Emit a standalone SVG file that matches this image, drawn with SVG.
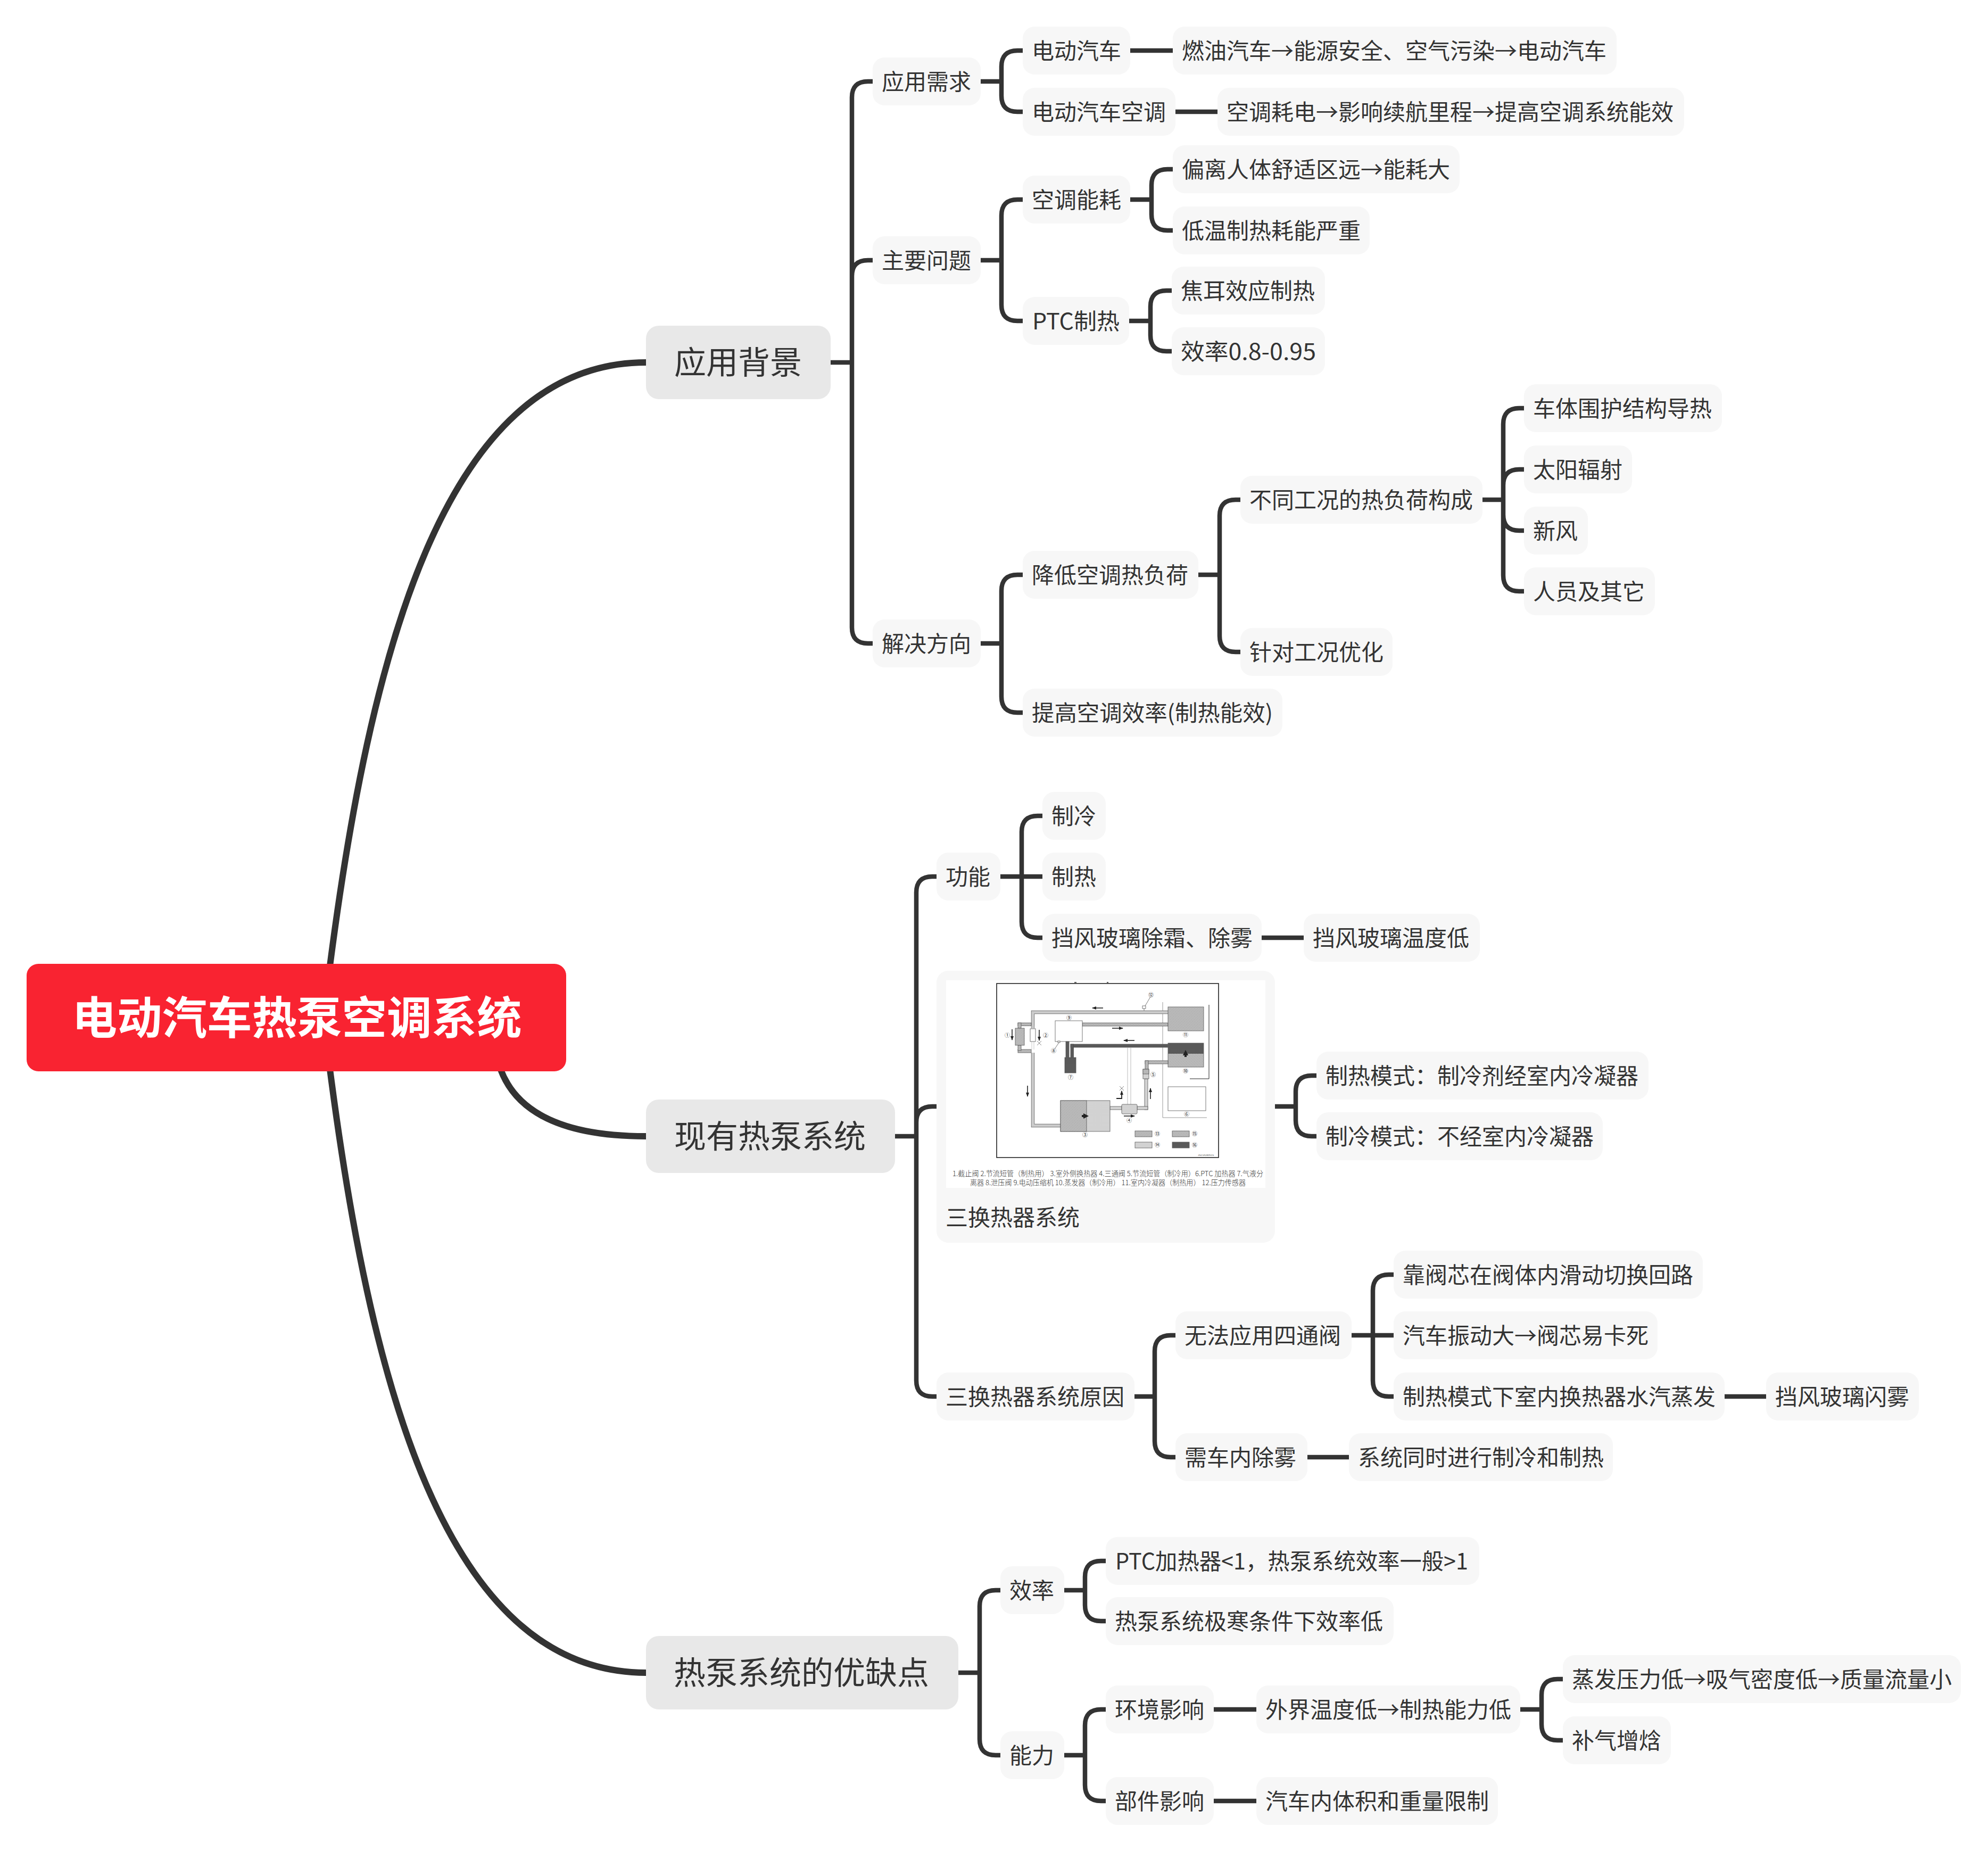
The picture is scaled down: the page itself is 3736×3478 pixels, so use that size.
<svg xmlns="http://www.w3.org/2000/svg" width="3736" height="3478" viewBox="0 0 3736 3478">
<style>
text{font-family:"Noto Sans CJK SC","Noto Sans",sans-serif;fill:#333}
.l3 rect,.card{fill:#f7f7f7}
.l3>text{font-size:42px;transform:translate(-1px,1px)}
.l2 rect{fill:#e8e8e8}
.l2 text{font-size:60px;text-anchor:middle;transform:translateX(-1px)}
.root rect{fill:#f92331}
.root text{font-size:84.5px;font-weight:700;fill:#fff;text-anchor:middle}
#connectors path{fill:none;stroke:#333;stroke-width:8.5}
#connectors .main{stroke-width:12}
#schematic .num{font-size:10px;text-anchor:middle;fill:#222}
#schematic .cap{font-size:13.5px;fill:#333;font-weight:300}
.pic{stroke:#555;stroke-width:.8}
.arr{stroke:#222;stroke-width:1.6;fill:none;marker-end:url(#ah)}
.thick{stroke:#222;stroke-width:4;fill:none;marker-end:url(#ahb)}
</style>
<defs>
<pattern id="h1" width="2.5" height="2.5" patternUnits="userSpaceOnUse"><rect width="2.5" height="2.5" fill="#ddd"/><path d="M0 2.5L2.5 0" stroke="#555" stroke-width=".7"/></pattern>
<pattern id="h2" width="2.5" height="2.5" patternUnits="userSpaceOnUse"><rect width="2.5" height="2.5" fill="#ddd"/><path d="M0 0L2.5 2.5" stroke="#555" stroke-width=".7"/></pattern>
<pattern id="lt" width="2" height="2" patternUnits="userSpaceOnUse"><rect width="2" height="2" fill="#dadada"/><rect width="1" height="1" fill="#bbb"/></pattern>
<pattern id="dk" width="2" height="2" patternUnits="userSpaceOnUse"><rect width="2" height="2" fill="#666"/><rect width="1" height="1" fill="#333"/></pattern>
<marker id="ah" viewBox="0 0 8 6" refX="7" refY="3" markerWidth="5" markerHeight="4" orient="auto"><path d="M0 0L8 3L0 6z" fill="#222"/></marker>
<marker id="ahb" viewBox="0 0 8 8" refX="4" refY="4" markerWidth="2.6" markerHeight="2.6" orient="auto"><path d="M0 0L8 4L0 8z" fill="#222"/></marker>
</defs>
<rect width="3736" height="3478" fill="#fff"/>
<g id="connectors">
<path class="main" d="M620 1815C693 1251 829 681 1214 681"/>
<path class="main" d="M941 2010C972 2092 1060 2135 1214 2135"/>
<path class="main" d="M620 2009C693 2573 829 3143 1214 3143"/>
<path d="M1561 681H1601M1601 681V183Q1601 153 1631 153H1640M1601 681V519Q1601 489 1631 489H1640M1601 681V1179Q1601 1209 1631 1209H1640"/>
<path d="M1843 153H1882M1882 153V125Q1882 95 1912 95H1922M1882 153V180Q1882 210 1912 210H1922"/>
<path d="M2124 95H2204M2209 210H2288"/>
<path d="M1843 489H1882M1882 489V405Q1882 375 1912 375H1922M1882 489V573Q1882 603 1912 603H1922"/>
<path d="M2124 375H2164M2164 375V348Q2164 318 2194 318H2204M2164 375V403Q2164 433 2194 433H2204"/>
<path d="M2122 603H2162M2162 603V576Q2162 546 2192 546H2202M2162 603V630Q2162 660 2192 660H2202"/>
<path d="M1843 1209H1882M1882 1209V1110Q1882 1080 1912 1080H1922M1882 1209V1309Q1882 1339 1912 1339H1922"/>
<path d="M2252 1080H2292M2292 1080V969Q2292 939 2322 939H2331M2292 1080V1195Q2292 1225 2322 1225H2331"/>
<path d="M2786 939H2825M2825 939V797Q2825 767 2855 767H2864M2825 939V912Q2825 882 2855 882H2864M2825 939V967Q2825 997 2855 997H2864M2825 939V1081Q2825 1111 2855 1111H2864"/>
<path d="M1682 2135H1722M1722 2135V1677Q1722 1647 1752 1647H1760M1722 2135V2109Q1722 2079 1752 2079H1760M1722 2135V2594Q1722 2624 1752 2624H1760"/>
<path d="M1880 1647H1959M1920 1647V1563Q1920 1533 1950 1533H1959M1920 1647V1732Q1920 1762 1950 1762H1959"/>
<path d="M2371 1762H2450"/>
<path d="M2396 2079H2435M2435 2079V2051Q2435 2021 2465 2021H2474M2435 2079V2105Q2435 2135 2465 2135H2474"/>
<path d="M2132 2624H2170M2170 2624V2539Q2170 2509 2200 2509H2209M2170 2624V2708Q2170 2738 2200 2738H2209"/>
<path d="M2540 2509H2619M2580 2509V2425Q2580 2395 2610 2395H2619M2580 2509V2594Q2580 2624 2610 2624H2619"/>
<path d="M3241 2624H3319M2457 2738H2535"/>
<path d="M1801 3143H1841M1841 3143V3018Q1841 2988 1871 2988H1880M1841 3143V3268Q1841 3298 1871 3298H1880"/>
<path d="M2000 2988H2039M2039 2988V2963Q2039 2933 2069 2933H2078M2039 2988V3016Q2039 3046 2069 3046H2078"/>
<path d="M2000 3298H2039M2039 3298V3242Q2039 3212 2069 3212H2078M2039 3298V3354Q2039 3384 2069 3384H2078"/>
<path d="M2281 3212H2361M2281 3384H2361"/>
<path d="M2857 3212H2897M2897 3212V3185Q2897 3155 2927 3155H2937M2897 3212V3240Q2897 3270 2927 3270H2937"/>
</g>
<g id="root" class="root"><rect x="50" y="1811" width="1014" height="202" rx="22"/><text x="558" y="1943">电动汽车热泵空调系统</text></g>

<g id="n-bg" class="l2"><rect x="1214" y="612" width="347" height="138" rx="24"/><text x="1388" y="703">应用背景</text></g>
<g id="n-xy" class="l2"><rect x="1214" y="2066" width="468" height="138" rx="24"/><text x="1448" y="2157">现有热泵系统</text></g>
<g id="n-yq" class="l2"><rect x="1214" y="3074" width="587" height="138" rx="24"/><text x="1507" y="3165">热泵系统的优缺点</text></g>

<g id="n1" class="l3"><rect x="1640" y="108" width="203" height="90" rx="22"/><text x="1658" y="168">应用需求</text></g>
<g id="n2" class="l3"><rect x="1922" y="50" width="202" height="90" rx="22"/><text x="1940" y="110">电动汽车</text></g>
<g id="n3" class="l3"><rect x="2204" y="50" width="834" height="90" rx="22"/><text x="2222" y="110">燃油汽车→能源安全、空气污染→电动汽车</text></g>
<g id="n4" class="l3"><rect x="1922" y="165" width="287" height="90" rx="22"/><text x="1940" y="225">电动汽车空调</text></g>
<g id="n5" class="l3"><rect x="2288" y="165" width="877" height="90" rx="22"/><text x="2306" y="225">空调耗电→影响续航里程→提高空调系统能效</text></g>
<g id="n6" class="l3"><rect x="1640" y="444" width="203" height="90" rx="22"/><text x="1658" y="504">主要问题</text></g>
<g id="n7" class="l3"><rect x="1922" y="330" width="202" height="90" rx="22"/><text x="1940" y="390">空调能耗</text></g>
<g id="n8" class="l3"><rect x="2204" y="273" width="539" height="90" rx="22"/><text x="2222" y="333">偏离人体舒适区远→能耗大</text></g>
<g id="n9" class="l3"><rect x="2204" y="388" width="370" height="90" rx="22"/><text x="2222" y="448">低温制热耗能严重</text></g>
<g id="n10" class="l3"><rect x="1922" y="558" width="200" height="90" rx="22"/><text x="1941" y="618" textLength="164" lengthAdjust="spacingAndGlyphs">PTC制热</text></g>
<g id="n11" class="l3"><rect x="2202" y="501" width="288" height="90" rx="22"/><text x="2220" y="561">焦耳效应制热</text></g>
<g id="n12" class="l3"><rect x="2202" y="615" width="288" height="90" rx="22"/><text x="2220" y="675" textLength="254" lengthAdjust="spacingAndGlyphs">效率0.8-0.95</text></g>
<g id="n13" class="l3"><rect x="1640" y="1164" width="203" height="90" rx="22"/><text x="1658" y="1224">解决方向</text></g>
<g id="n14" class="l3"><rect x="1922" y="1035" width="330" height="90" rx="22"/><text x="1940" y="1095">降低空调热负荷</text></g>
<g id="n15" class="l3"><rect x="2331" y="894" width="455" height="90" rx="22"/><text x="2349" y="954">不同工况的热负荷构成</text></g>
<g id="n16" class="l3"><rect x="2864" y="722" width="372" height="90" rx="22"/><text x="2882" y="782">车体围护结构导热</text></g>
<g id="n17" class="l3"><rect x="2864" y="837" width="203" height="90" rx="22"/><text x="2882" y="897">太阳辐射</text></g>
<g id="n18" class="l3"><rect x="2864" y="952" width="120" height="90" rx="22"/><text x="2882" y="1012">新风</text></g>
<g id="n19" class="l3"><rect x="2864" y="1066" width="246" height="90" rx="22"/><text x="2882" y="1126">人员及其它</text></g>
<g id="n20" class="l3"><rect x="2331" y="1180" width="286" height="90" rx="22"/><text x="2349" y="1240">针对工况优化</text></g>
<g id="n21" class="l3"><rect x="1922" y="1294" width="488" height="90" rx="22"/><text x="1940" y="1354" textLength="453" lengthAdjust="spacingAndGlyphs">提高空调效率(制热能效)</text></g>

<g id="n22" class="l3"><rect x="1760" y="1602" width="120" height="90" rx="22"/><text x="1778" y="1662">功能</text></g>
<g id="n23" class="l3"><rect x="1959" y="1488" width="119" height="90" rx="22"/><text x="1977" y="1548">制冷</text></g>
<g id="n24" class="l3"><rect x="1959" y="1602" width="119" height="90" rx="22"/><text x="1977" y="1662">制热</text></g>
<g id="n25" class="l3"><rect x="1959" y="1717" width="412" height="90" rx="22"/><text x="1977" y="1777">挡风玻璃除霜、除雾</text></g>
<g id="n26" class="l3"><rect x="2450" y="1717" width="331" height="90" rx="22"/><text x="2468" y="1777">挡风玻璃温度低</text></g>

<g id="n27" class="l3">
<rect x="1760" y="1824" width="636" height="511" rx="22"/>
<g id="schematic">
<rect x="1778" y="1842" width="600" height="390" style="fill:#fff"/>
<path d="M2019 1846h4M2080 1846h3" stroke="#333" stroke-width="1.5"/>
<rect x="1873" y="1848" width="417" height="327" stroke="#222" stroke-width="1.6" style="fill:none"/>
<path d="M2185 1883V2100H2268" fill="none" stroke="#999" stroke-width="1"/>
<path d="M2272 1888V2027H2236" fill="none" stroke="#222" stroke-width="1"/>
<g class="pic">
<path d="M2195 1902H1941V1932M1941 1978V2115H1993" fill="none" stroke="#555" stroke-width="6.4"/>
<path d="M2195 1902H1941V1932M1941 1978V2115H1993" fill="none" stroke="#ccc" stroke-width="5"/>
<rect x="1913" y="1922" width="25" height="5.5" style="fill:url(#h1)"/>
<rect x="1913" y="1972" width="25" height="6" style="fill:url(#h1)"/>
<rect x="1913" y="1922" width="6" height="10" style="fill:url(#h1)"/>
<rect x="1913" y="1964" width="6" height="10" style="fill:url(#h1)"/>
<rect x="1908" y="1932" width="17" height="32" style="fill:url(#h1)"/>
<path d="M1939 1927V1972M1943 1927V1972" fill="none" stroke="#bbb"/>
<rect x="1936" y="1933" width="10" height="24" style="fill:#fff"/>
<rect x="2034" y="1922" width="161" height="6" style="fill:url(#h1)"/>
<rect x="1983" y="1918" width="51" height="39" style="fill:#fff"/>
<rect x="2195" y="1892" width="67" height="45" style="fill:url(#h1)"/>
<rect x="2003" y="1957" width="6" height="30" style="fill:url(#dk)"/>
<rect x="2012" y="1962" width="183" height="6" style="fill:url(#dk)"/>
<rect x="2012" y="1962" width="5.5" height="25" style="fill:url(#dk)"/>
<rect x="2001" y="1987" width="21" height="29" style="fill:url(#dk)"/>
<rect x="2195" y="1960" width="67" height="45" style="fill:url(#h2)"/>
<rect x="2195" y="1960" width="67" height="20" style="fill:url(#dk)" stroke="none"/>
<path d="M2119 1968V2075M2125 1968V2075" fill="none" stroke="#aaa"/>
<rect x="2152" y="1993" width="43" height="6" style="fill:url(#h2)"/>
<rect x="2152" y="1993" width="6" height="17" style="fill:url(#h2)"/>
<rect x="2151" y="2027" width="6" height="58" style="fill:url(#lt)"/>
<rect x="2137" y="2079" width="20" height="6" style="fill:url(#lt)"/>
<rect x="2086" y="2079" width="22" height="6" style="fill:url(#lt)"/>
<rect x="2148" y="2009" width="11" height="18" style="fill:url(#lt)"/>
<rect x="2148" y="2009" width="11" height="9" style="fill:url(#h2)"/>
<rect x="2108" y="2075" width="29" height="18" rx="2" style="fill:url(#lt)"/>
<rect x="1993" y="2068" width="93" height="58" style="fill:url(#lt)"/>
<rect x="1993" y="2068" width="49" height="58" style="fill:url(#h1)"/>
<rect x="2195" y="2042" width="71" height="45" style="fill:#fff"/>
<rect x="2147" y="1890" width="6" height="5" style="fill:#fff"/>
<path d="M2150 1895V1899M2152 1890L2162 1873" fill="none"/>
<rect x="1988" y="1956" width="4" height="3" style="fill:#fff"/>
<path d="M1990 1959L1982 1971" fill="none"/>
<rect x="2133" y="2125" width="32" height="11" style="fill:url(#h1)"/>
<rect x="2203" y="2125" width="32" height="11" style="fill:url(#h2)"/>
<rect x="2133" y="2146" width="32" height="11" style="fill:url(#lt)"/>
<rect x="2203" y="2146" width="32" height="11" style="fill:url(#dk)"/>
</g>
<path d="M1949 1956L1957 1964M1957 1956L1949 1964M2104 2041L2112 2049M2112 2041L2104 2049" stroke="#666" stroke-width=".8"/>
<path class="arr" d="M2073 1894H2053"/>
<path class="arr" d="M2090 1932H2110"/>
<path class="arr" d="M2132 1955H2112"/>
<path class="arr" d="M1902 1934V1954"/>
<path class="arr" d="M1953 1935V1955"/>
<path class="arr" d="M1931 2040V2060"/>
<path class="arr" d="M2112 2097H2132"/>
<path class="arr" d="M2162 2065V2045"/>
<path d="M2098 2064H2108V2056" fill="none" stroke="#222" stroke-width="1.8"/><path class="arr" d="M2108 2058V2050"/>
<path class="thick" d="M2033 2097H2041"/>
<path class="thick" d="M2228 1986V1978"/>
<g>
<text class="num" x="1893" y="1949">①</text><text class="num" x="1965" y="1949">②</text><text class="num" x="2039" y="2136">③</text><text class="num" x="2122" y="2109">④</text><text class="num" x="2167" y="2023">⑤</text><text class="num" x="2230" y="2097">⑥</text><text class="num" x="2012" y="2028">⑦</text><text class="num" x="1980" y="1978">⑧</text><text class="num" x="2009" y="1916">⑨</text><text class="num" x="2228" y="2016">⑩</text><text class="num" x="2228" y="1948">⑪</text><text class="num" x="2163" y="1873">⑫</text><text class="num" x="2175" y="2134">⑬</text><text class="num" x="2245" y="2134">⑮</text><text class="num" x="2175" y="2155">⑭</text><text class="num" x="2245" y="2155">⑯</text>
</g>
<text x="2251" y="2172" style="font-size:4px" textLength="30" lengthAdjust="spacingAndGlyphs">JSC1A24051S</text>
<text class="cap" x="1790" y="2210" textLength="584" lengthAdjust="spacingAndGlyphs">1.截止阀 2.节流短管（制热用） 3.室外侧换热器 4.三通阀 5.节流短管（制冷用）6.PTC 加热器 7.气液分</text>
<text class="cap" x="1823" y="2227" textLength="518" lengthAdjust="spacingAndGlyphs">离器 8.泄压阀 9.电动压缩机 10.蒸发器（制冷用） 11.室内冷凝器（制热用） 12.压力传感器</text>
</g>
<text x="1778" y="2302">三换热器系统</text>
</g>
<g id="n28" class="l3"><rect x="2474" y="1976" width="624" height="90" rx="22"/><text x="2492" y="2036">制热模式：制冷剂经室内冷凝器</text></g>
<g id="n29" class="l3"><rect x="2474" y="2090" width="538" height="90" rx="22"/><text x="2492" y="2150">制冷模式：不经室内冷凝器</text></g>
<g id="n30" class="l3"><rect x="1760" y="2579" width="372" height="90" rx="22"/><text x="1778" y="2639">三换热器系统原因</text></g>
<g id="n31" class="l3"><rect x="2209" y="2464" width="331" height="90" rx="22"/><text x="2227" y="2524">无法应用四通阀</text></g>
<g id="n32" class="l3"><rect x="2619" y="2350" width="581" height="90" rx="22"/><text x="2637" y="2410">靠阀芯在阀体内滑动切换回路</text></g>
<g id="n33" class="l3"><rect x="2619" y="2464" width="496" height="90" rx="22"/><text x="2637" y="2524">汽车振动大→阀芯易卡死</text></g>
<g id="n34" class="l3"><rect x="2619" y="2579" width="622" height="90" rx="22"/><text x="2637" y="2639">制热模式下室内换热器水汽蒸发</text></g>
<g id="n35" class="l3"><rect x="3319" y="2579" width="287" height="90" rx="22"/><text x="3337" y="2639">挡风玻璃闪雾</text></g>
<g id="n36" class="l3"><rect x="2209" y="2693" width="248" height="90" rx="22"/><text x="2227" y="2753">需车内除雾</text></g>
<g id="n37" class="l3"><rect x="2535" y="2693" width="496" height="90" rx="22"/><text x="2553" y="2753">系统同时进行制冷和制热</text></g>

<g id="n38" class="l3"><rect x="1880" y="2943" width="120" height="90" rx="22"/><text x="1898" y="3003">效率</text></g>
<g id="n39" class="l3"><rect x="2078" y="2888" width="702" height="90" rx="22"/><text x="2097" y="2948" textLength="663" lengthAdjust="spacingAndGlyphs">PTC加热器&lt;1，热泵系统效率一般&gt;1</text></g>
<g id="n40" class="l3"><rect x="2078" y="3001" width="541" height="90" rx="22"/><text x="2096" y="3061">热泵系统极寒条件下效率低</text></g>
<g id="n41" class="l3"><rect x="1880" y="3253" width="120" height="90" rx="22"/><text x="1898" y="3313">能力</text></g>
<g id="n42" class="l3"><rect x="2078" y="3167" width="203" height="90" rx="22"/><text x="2096" y="3227">环境影响</text></g>
<g id="n43" class="l3"><rect x="2361" y="3167" width="496" height="90" rx="22"/><text x="2379" y="3227">外界温度低→制热能力低</text></g>
<g id="n44" class="l3"><rect x="2937" y="3110" width="748" height="90" rx="22"/><text x="2955" y="3170">蒸发压力低→吸气密度低→质量流量小</text></g>
<g id="n45" class="l3"><rect x="2937" y="3225" width="203" height="90" rx="22"/><text x="2955" y="3285">补气增焓</text></g>
<g id="n46" class="l3"><rect x="2078" y="3339" width="203" height="90" rx="22"/><text x="2096" y="3399">部件影响</text></g>
<g id="n47" class="l3"><rect x="2361" y="3339" width="454" height="90" rx="22"/><text x="2379" y="3399">汽车内体积和重量限制</text></g>
</svg>
